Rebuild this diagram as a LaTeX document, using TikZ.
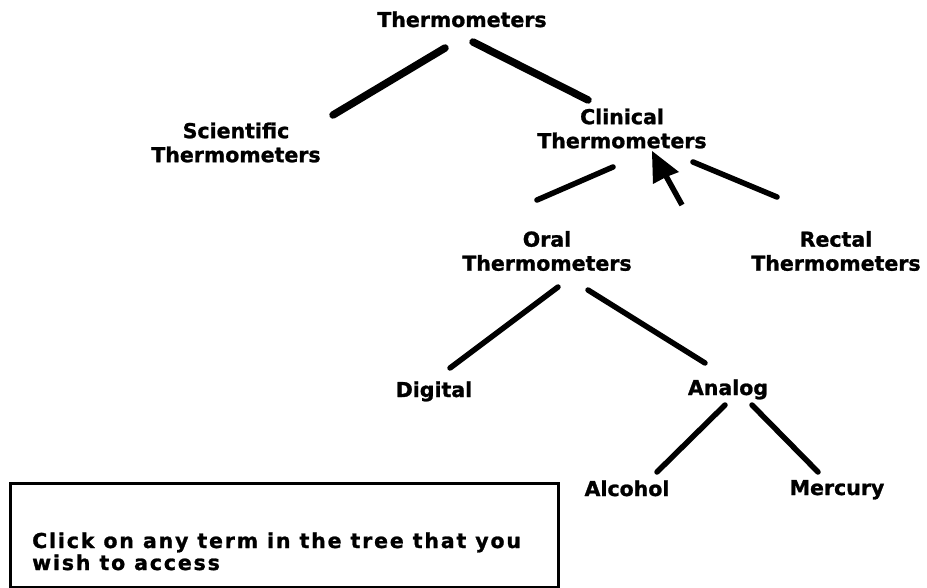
\documentclass[tikz,border=0pt]{standalone}
\usepackage{fontspec}
\setmainfont{DejaVu Sans}
\newfontfamily\heavy{DejaVu Sans Bold}[FakeBold=1.2]
\newfontfamily\msgfont{DejaVu Sans Bold}[FakeBold=1.2,LetterSpace=9]
\begin{document}
\begin{tikzpicture}[x=1pt,y=-1pt,
  label/.style={inner sep=0pt,font=\heavy\fontsize{20.5}{24}\selectfont,align=center},
  msg/.style={inner sep=0pt,font=\msgfont\fontsize{20.5}{22}\selectfont,align=left,anchor=base west},
  branch/.style={line width=5.5pt,line cap=round},
  trunk/.style={line width=7.5pt,line cap=round}]
\useasboundingbox[fill=white] (0,0) rectangle (927,588);

% tree labels
\node[label,anchor=base] (root) at (462,27) {Thermometers};
\node[label] (sci) at (236,142.5) {Scientific\\Thermometers};
\node[label] (clin) at (622,128.5) {Clinical\\Thermometers};
\node[label] (oral) at (547,251) {Oral\\Thermometers};
\node[label] (rect) at (836,251) {Rectal\\Thermometers};
\node[label,anchor=base] (dig) at (434,397) {Digital};
\node[label,anchor=base] (ana) at (728,395) {Analog};
\node[label,anchor=base] (alc) at (627,496) {Alcohol};
\node[label,anchor=base] (mer) at (837,495) {Mercury};

% connector end points
\coordinate (root-a) at (445,48);  \coordinate (sci-a)  at (333,115);
\coordinate (root-b) at (473,42);  \coordinate (clin-a) at (588,100);
\coordinate (clin-b) at (613,167); \coordinate (oral-a) at (537,200);
\coordinate (clin-c) at (693,162); \coordinate (rect-a) at (777,197);
\coordinate (oral-b) at (558,287); \coordinate (dig-a)  at (450,368);
\coordinate (oral-c) at (588,290); \coordinate (ana-a)  at (705,363);
\coordinate (ana-b)  at (725,405); \coordinate (alc-a)  at (657,472);
\coordinate (ana-c)  at (752,405); \coordinate (mer-a)  at (818,472);

\draw[trunk] (root-a) -- (sci-a);
\draw[trunk] (root-b) -- (clin-a);
\draw[branch] (clin-b) -- (oral-a);
\draw[branch] (clin-c) -- (rect-a);
\draw[branch] (oral-b) -- (dig-a);
\draw[branch] (oral-c) -- (ana-a);
\draw[branch] (ana-b) -- (alc-a);
\draw[branch] (ana-c) -- (mer-a);

% mouse pointer
\coordinate (tip) at (652,151);
\coordinate (tail) at (682,205);
\fill (tip) -- (653,184) -- (666,177) -- (679,172) -- cycle;
\draw[line width=5.5pt] (666,176) -- (tail);

% message box
\node[draw,line width=3pt,inner sep=0pt,minimum width=548pt,minimum height=104pt,anchor=north west] (box) at (9,482) {};
\node[msg] (hint) at (32,570) {Click on any term in the tree that you\\wish to access};
\end{tikzpicture}
\end{document}
